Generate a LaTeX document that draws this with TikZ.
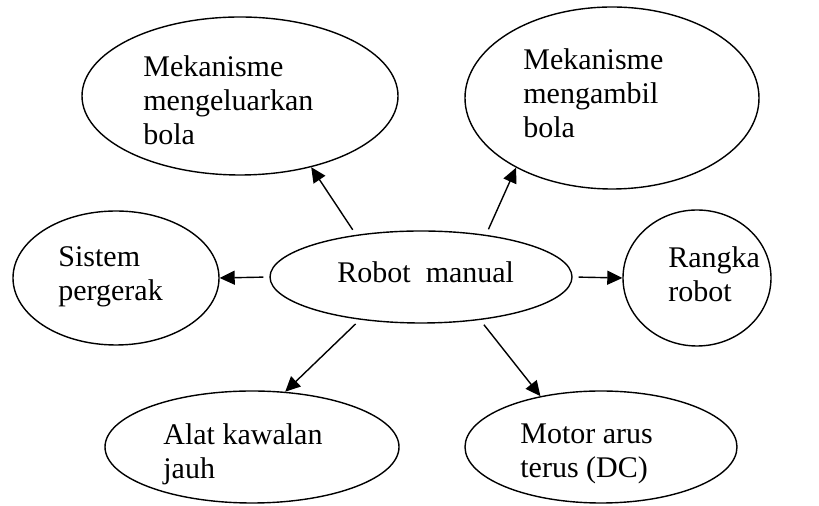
\documentclass[tikz,border=0pt]{standalone}
\usepackage{fontspec}
\setmainfont{Liberation Serif}
\usepackage{tikz}
\usetikzlibrary{arrows.meta,shapes.geometric}

\begin{document}
\begin{tikzpicture}[
  x=0.5pt, y=-0.5pt,
  font=\fontsize{15}{17}\selectfont,
  oval/.style={draw, ellipse, line width=0.7pt, inner sep=0pt},
  teks/.style={anchor=north west, inner sep=0pt, align=left},
  arr/.style={-{Triangle[length=7.5pt,width=7pt]}, line width=0.7pt, shorten <=3pt}
]
\useasboundingbox (0,0) rectangle (819,506);
\node[oval, minimum width=158pt, minimum height=79pt] (keluar) at (240,96) {};
\node[oval, minimum width=147pt, minimum height=91pt] (ambil) at (612,98) {};
\node[oval, minimum width=103pt, minimum height=67pt] (gerak) at (116,278) {};
\node[oval, minimum width=151pt, minimum height=46pt] (robot) at (421,277) {};
\node[oval, minimum width=74pt, minimum height=68pt] (rangka) at (697,278) {};
\node[oval, minimum width=147pt, minimum height=56pt] (kawal) at (252,447) {};
\node[oval, minimum width=136pt, minimum height=56pt] (motor) at (601,447) {};
\node[teks] (keluar-t) at (143,55) {Mekanisme\\ mengeluarkan\\ bola};
\node[teks] (ambil-t) at (523,48) {Mekanisme\\ mengambil\\ bola};
\node[teks] (gerak-t) at (58,246) {Sistem\\ pergerak};
\node[anchor=base west, inner sep=0pt] (robot-t) at (337,283) {Robot \ manual};
\node[teks] (rangka-t) at (668,246) {Rangka\\ robot};
\node[teks] (kawal-t) at (163,423) {Alat kawalan\\ jauh};
\node[teks] (motor-t) at (520,423) {Motor arus\\ terus (DC)};
\draw[arr] (robot.147) -- (keluar.-45);
\draw[arr] (robot.33) -- (ambil.-144);
\draw[arr] (robot.west) -- (gerak.east);
\draw[arr] (robot.east) -- (rangka.west);
\draw[arr] (robot.-145) -- (kawal.59);
\draw[arr] (robot.-36) -- (motor.140);
\end{tikzpicture}
\end{document}
